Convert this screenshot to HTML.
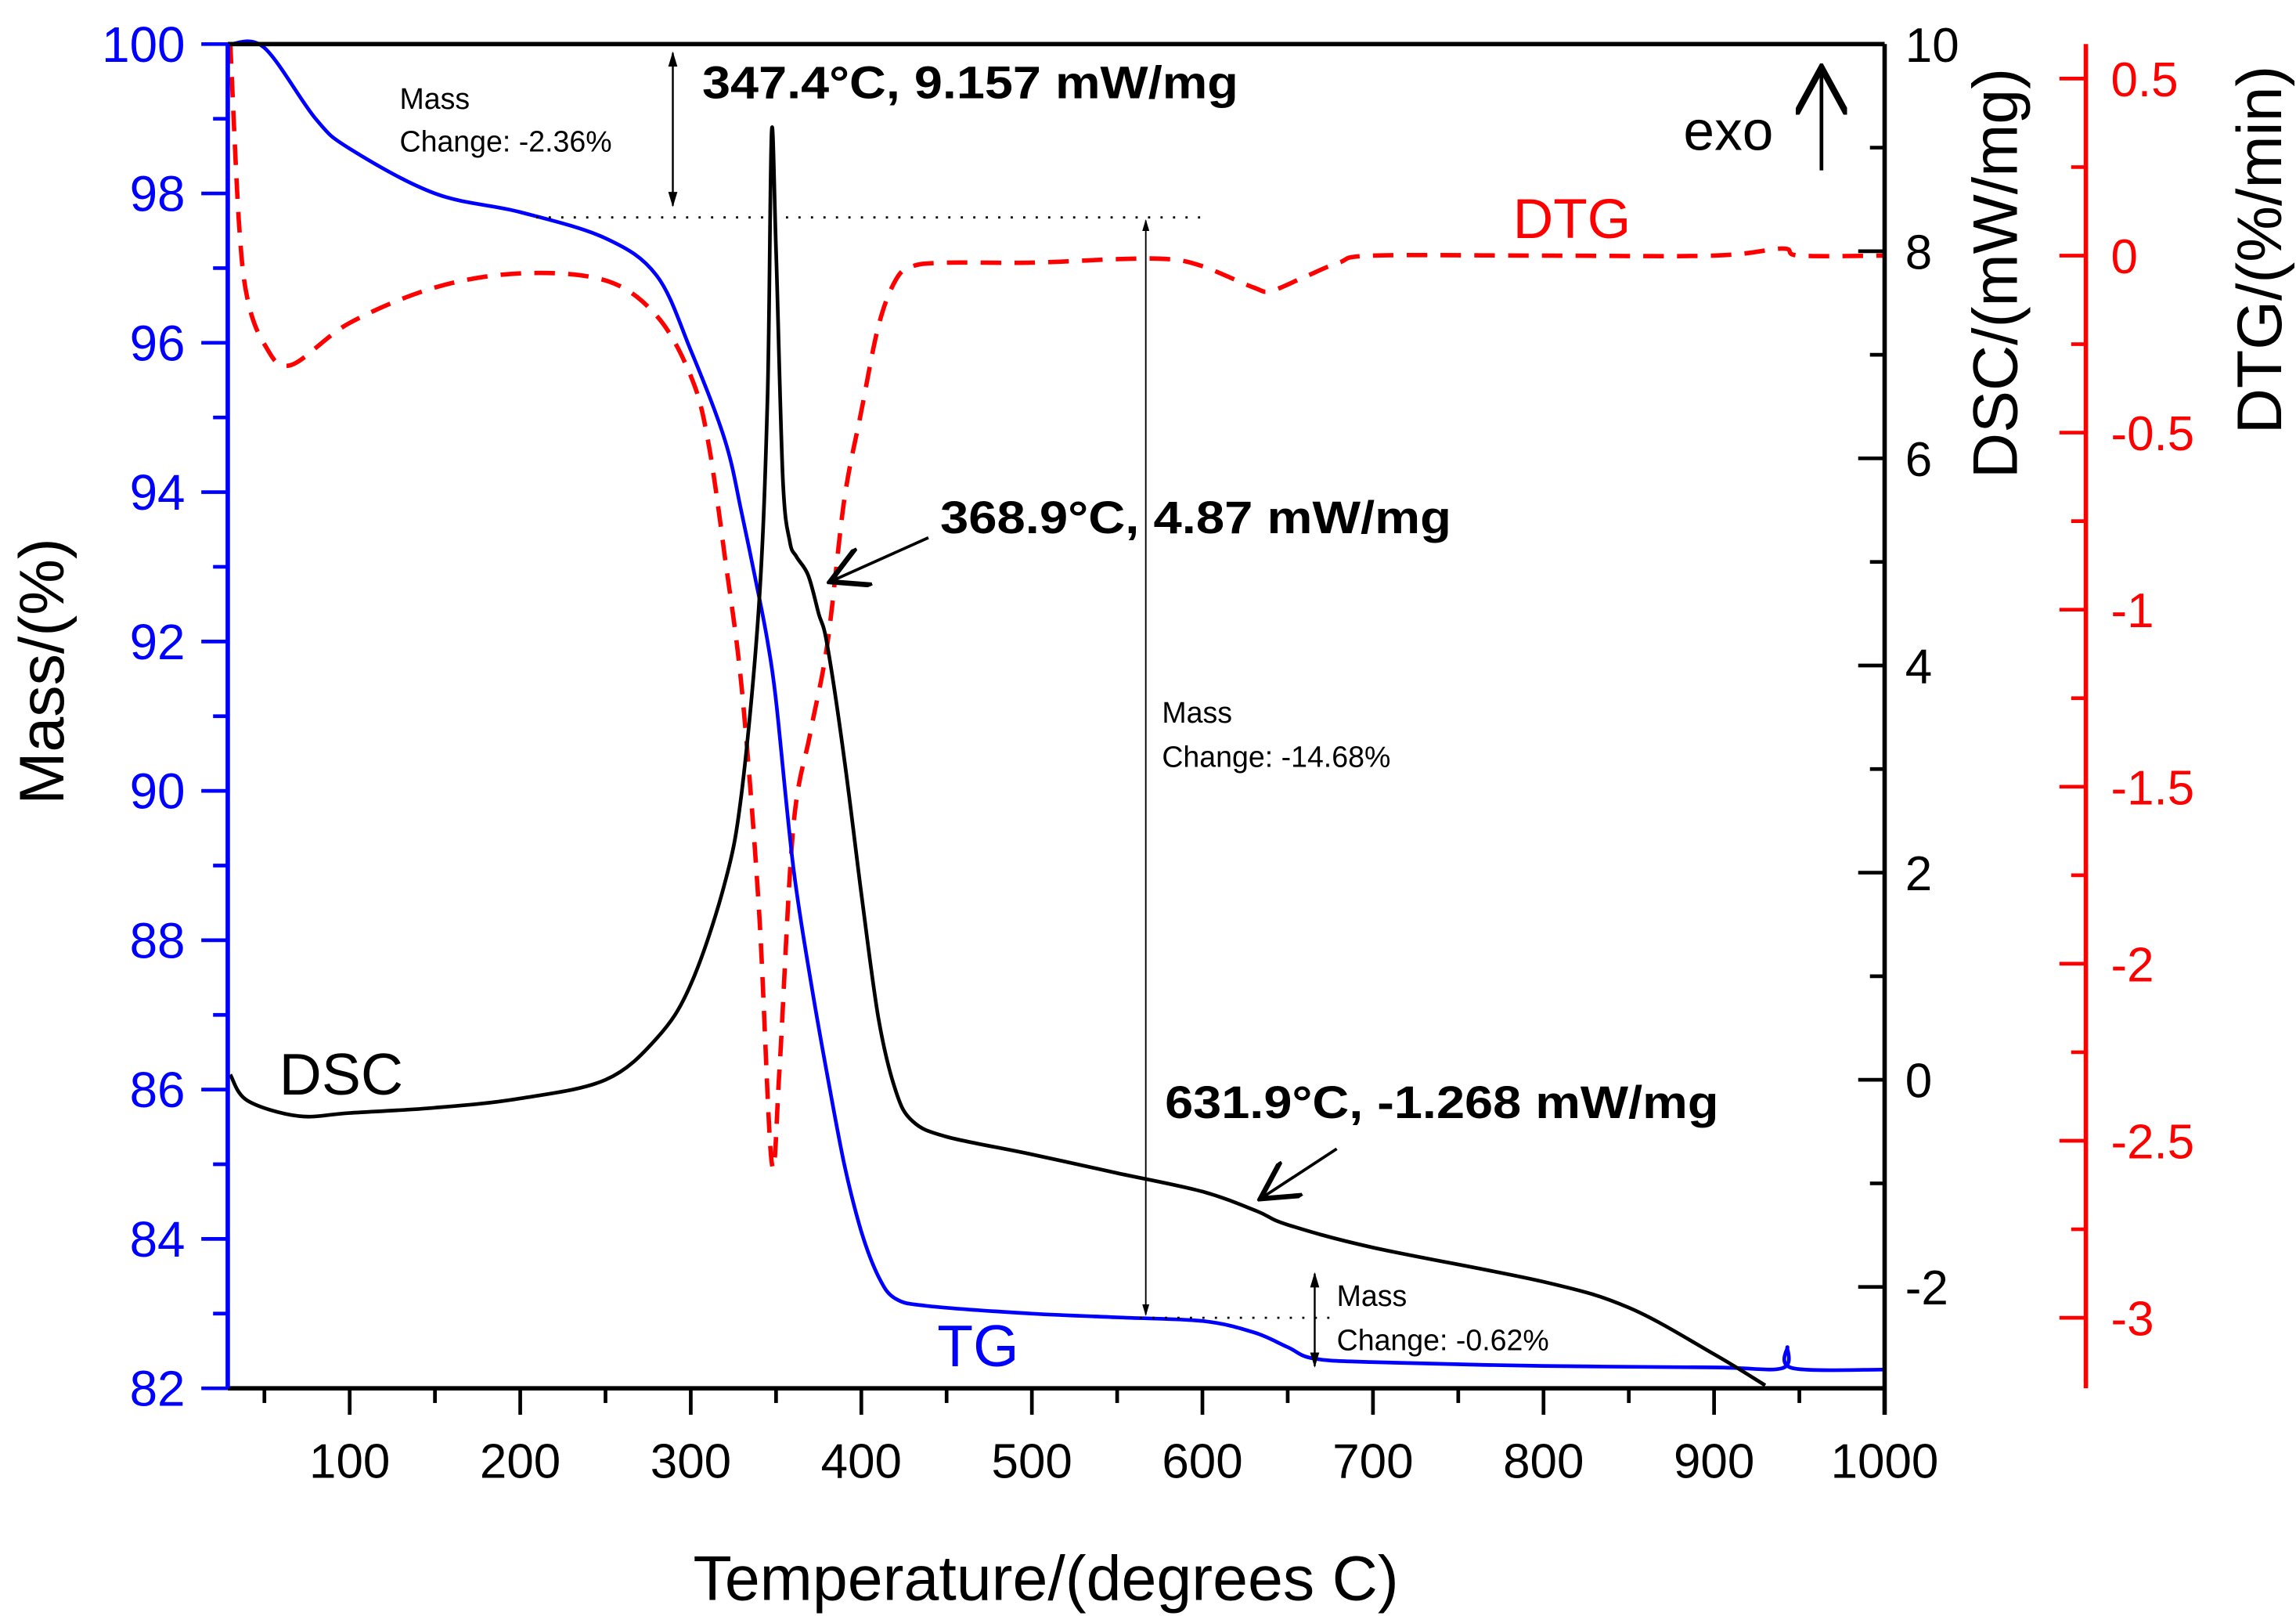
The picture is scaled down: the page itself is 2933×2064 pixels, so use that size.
<!DOCTYPE html>
<html><head><meta charset="utf-8"><style>
html,body{margin:0;padding:0;background:#fff}
svg{display:block}
text{font-family:"Liberation Sans",sans-serif}
</style></head><body>
<svg id="chart" width="2933" height="2064" viewBox="0 0 1563 1100" xmlns="http://www.w3.org/2000/svg">
<defs>
<marker id="ah" viewBox="0 0 10 10" refX="9" refY="5" markerWidth="8" markerHeight="8" orient="auto-start-reverse"><path d="M0,2 L10,5 L0,8 z" fill="#000"/></marker>
<marker id="ao" viewBox="0 0 12 12" refX="11" refY="6" markerWidth="14" markerHeight="14" orient="auto"><path d="M0,0 L11,6 L0,12" fill="none" stroke="#000" stroke-width="1.5"/></marker>
</defs>
<g id="plot"></g>
<g id="axes"></g>
<g id="annotations">
  <line x1="365" y1="148" x2="822" y2="148" stroke="#000" stroke-width="1.5" stroke-dasharray="1.5,7"/>
  <line x1="458" y1="36" x2="458" y2="140" stroke="#000" stroke-width="1.3" marker-start="url(#ah)" marker-end="url(#ah)"/>
  <text x="272" y="74" font-size="20">Mass</text>
  <text x="272" y="103" font-size="20">Change: -2.36%</text>
  <text x="478" y="67" font-size="31" font-weight="bold" textLength="365" lengthAdjust="spacingAndGlyphs">347.4°C, 9.157 mW/mg</text>
  <text x="1146" y="102" font-size="38">exo</text>
  <line x1="1240" y1="116" x2="1240" y2="46" stroke="#000" stroke-width="2.5" marker-end="url(#ao)"/>
  <text x="1030" y="162" font-size="38" fill="#ff0000">DTG</text>
  <text x="640" y="363" font-size="31" font-weight="bold" textLength="348" lengthAdjust="spacingAndGlyphs">368.9°C, 4.87 mW/mg</text>
  <line x1="632" y1="366" x2="565" y2="396" stroke="#000" stroke-width="2" marker-end="url(#ao)"/>
  <line x1="780" y1="150" x2="780" y2="895" stroke="#000" stroke-width="1" marker-start="url(#ah)" marker-end="url(#ah)"/>
  <text x="791" y="492" font-size="20">Mass</text>
  <text x="791" y="522" font-size="20">Change: -14.68%</text>
  <text x="793" y="761" font-size="31" font-weight="bold" textLength="377" lengthAdjust="spacingAndGlyphs">631.9°C, -1.268 mW/mg</text>
  <line x1="910" y1="782" x2="858" y2="816" stroke="#000" stroke-width="2" marker-end="url(#ao)"/>
  <line x1="776" y1="897" x2="905" y2="897" stroke="#000" stroke-width="1.5" stroke-dasharray="1.5,7"/>
  <line x1="895" y1="867" x2="895" y2="930" stroke="#000" stroke-width="1.3" marker-start="url(#ah)" marker-end="url(#ah)"/>
  <text x="910" y="889" font-size="20">Mass</text>
  <text x="910" y="919" font-size="20">Change: -0.62%</text>
  <text x="190" y="745" font-size="40">DSC</text>
  <text x="638" y="930" font-size="40" fill="#0000ff">TG</text>
</g>
</svg>
<script>
// data
const tgTemp = [30,50,80,100,150,200,250,280,300,320,330,340,345,350,360,370,380,390,400,410,420,440,500,550,600,630,650,665,700,800,900,940,943,946,1000];
const tgMass = [100,99.95,99.0,98.6,98.0,97.75,97.4,96.9,95.9,94.7,93.7,92.6,92.0,91.2,89.0,87.5,86.2,85.0,84.1,83.5,83.2,83.1,83.0,82.95,82.9,82.75,82.55,82.4,82.35,82.3,82.28,82.27,82.55,82.27,82.25];
const dscTemp = [30,40,70,100,150,200,250,280,300,320,330,340,345,347.4,350,354,358,362,368.9,375,380,390,400,410,420,430,450,500,550,600,631.9,650,700,800,850,900,930];
const dscVal = [0.05,-0.2,-0.35,-0.32,-0.27,-0.18,0.0,0.4,0.92,1.9,2.8,4.6,6.6,9.157,8.0,5.8,5.2,5.05,4.87,4.5,4.2,3.1,1.8,0.6,-0.1,-0.4,-0.55,-0.72,-0.9,-1.08,-1.268,-1.4,-1.62,-1.95,-2.2,-2.65,-2.95];
const dtgTemp = [30,35,40,50,65,100,150,200,250,280,300,310,320,330,340,347.4,352,360,370,380,390,400,410,420,430,450,500,550,580,600,630,640,660,680,700,800,900,940,950,1000];
const dtgVal = [0.6,0.1,-0.12,-0.25,-0.31,-0.19,-0.09,-0.05,-0.07,-0.17,-0.34,-0.52,-0.85,-1.23,-1.85,-2.56,-2.3,-1.62,-1.35,-1.1,-0.69,-0.44,-0.2,-0.07,-0.03,-0.02,-0.02,-0.01,-0.01,-0.03,-0.09,-0.1,-0.06,-0.02,0,0,0,0.02,0,0];
const xTicks = [100,200,300,400,500,600,700,800,900,1000];
const massTicks = [82,84,86,88,90,92,94,96,98,100];
const dscTicks = [-2,0,2,4,6,8,10];
const dtgTicks = [0.5,0,-0.5,-1,-1.5,-2,-2.5,-3];
const dtgTickLabels = ["0.5","0","-0.5","-1","-1.5","-2","-2.5","-3"];

const L=155,R=1283,T=30,B=945;
const xS = t => 238 + (t-100)*(1283-238)/900;
const massS = m => 30 + (100-m)*(945-30)/18;
const dscS = d => 735 - d*70.5;
const dtgS = v => 174 - v*241;
const NS='http://www.w3.org/2000/svg';
function mk(tag, attrs, parent){const e=document.createElementNS(NS,tag);for(const k in attrs)e.setAttribute(k,attrs[k]);parent.appendChild(e);return e;}
const plot=document.getElementById('plot'), axes=document.getElementById('axes');
function pathD(xs,ys,fy){
  const P=xs.map((t,i)=>[xS(t),fy(ys[i])]);
  let d='M'+P[0][0].toFixed(1)+','+P[0][1].toFixed(1);
  const k=0.5/3;
  for(let i=0;i<P.length-1;i++){
    const p0=P[Math.max(0,i-1)],p1=P[i],p2=P[i+1],p3=P[Math.min(P.length-1,i+2)];
    const c1=[p1[0]+(p2[0]-p0[0])*k,p1[1]+(p2[1]-p0[1])*k];
    const c2=[p2[0]-(p3[0]-p1[0])*k,p2[1]-(p3[1]-p1[1])*k];
    d+=' C'+c1[0].toFixed(1)+','+c1[1].toFixed(1)+' '+c2[0].toFixed(1)+','+c2[1].toFixed(1)+' '+p2[0].toFixed(1)+','+p2[1].toFixed(1);
  }
  return d;
}

let p=mk('path',{d:pathD(dtgTemp,dtgVal,dtgS),fill:'none',stroke:'#ff0000','stroke-width':3,'stroke-dasharray':'14,9','stroke-linejoin':'round'},plot);


p=mk('path',{d:pathD(tgTemp,tgMass,massS),fill:'none',stroke:'#0000ff','stroke-width':2.5,'stroke-linejoin':'round'},plot);


p=mk('path',{d:pathD(dscTemp,dscVal,dscS),fill:'none',stroke:'#000','stroke-width':2.5,'stroke-linejoin':'round'},plot);



// frame
let f=mk('line',{x1:L,y1:T,x2:R,y2:T,stroke:'#000','stroke-width':3},axes);


f=mk('line',{x1:L,y1:B,x2:R,y2:B,stroke:'#000','stroke-width':3},axes);


f=mk('line',{x1:R,y1:T,x2:R,y2:B+18,stroke:'#000','stroke-width':3},axes);


f=mk('line',{x1:L,y1:T,x2:L,y2:B,stroke:'#0000ff','stroke-width':3},axes);


f=mk('line',{x1:1420,y1:T,x2:1420,y2:B,stroke:'#ff0000','stroke-width':3},axes);



// x ticks
for(let t=50;t<=1000;t+=50){const maj=t%100===0;mk('line',{x1:xS(t),y1:B,x2:xS(t),y2:B+(maj?18:10),stroke:'#000','stroke-width':2.5},axes);}
xTicks.forEach(t=>{const e=mk('text',{x:xS(t),y:1006,'font-size':33,'text-anchor':'middle'},axes);e.textContent=t;

});
// mass ticks
for(let m=82;m<=100;m+=1){const maj=m%2===0;mk('line',{x1:L,y1:massS(m),x2:L-(maj?18:10),y2:massS(m),stroke:'#0000ff','stroke-width':2.5},axes);}
massTicks.forEach(m=>{const e=mk('text',{x:126,y:massS(m)+12,'font-size':34,'text-anchor':'end',fill:'#0000ff'},axes);e.textContent=m;

});
// dsc ticks
for(let d=-2;d<=10;d+=1){const maj=d%2===0;mk('line',{x1:R,y1:dscS(d),x2:R-(maj?18:10),y2:dscS(d),stroke:'#000','stroke-width':2.5},axes);}
dscTicks.forEach(d=>{const e=mk('text',{x:1297,y:dscS(d)+12,'font-size':33},axes);e.textContent=d;

});
// dtg ticks
for(let v=-3;v<=0.5001;v+=0.25){const maj=Math.abs(v*2-Math.round(v*2))<1e-6;mk('line',{x1:1420,y1:dtgS(v),x2:1420-(maj?18:10),y2:dtgS(v),stroke:'#ff0000','stroke-width':2.5},axes);}
dtgTicks.forEach((v,i)=>{const e=mk('text',{x:1437,y:dtgS(v)+12,'font-size':33,fill:'#ff0000'},axes);e.textContent=dtgTickLabels[i];

});
// axis titles
let a=mk('text',{x:712,y:1089,'font-size':43,'text-anchor':'middle'},axes);a.textContent='Temperature/(degrees C)';


a=mk('text',{x:0,y:0,'font-size':43,'text-anchor':'middle',transform:'translate(43,457) rotate(-90)'},axes);a.textContent='Mass/(%)';


a=mk('text',{x:0,y:0,'font-size':43,'text-anchor':'middle',transform:'translate(1373,186) rotate(-90)'},axes);a.textContent='DSC/(mW/mg)';


a=mk('text',{x:0,y:0,'font-size':43,'text-anchor':'middle',transform:'translate(1553,170) rotate(-90)'},axes);a.textContent='DTG/(%/min)';


</script>
</body></html>
